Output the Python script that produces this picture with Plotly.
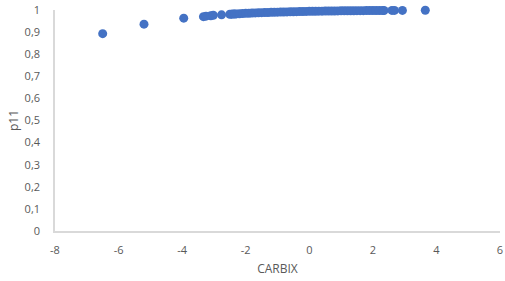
import plotly.graph_objects as go

carbix = [-6.5, -5.2, -3.95, -3.33, -3.25, -3.1, -3.02, -2.76,
          -2.5, -2.45, -2.4, -2.35, -2.3, -2.2, -2.1, -2.0, -1.9, -1.8, -1.7, -1.6,
          -1.5, -1.4, -1.3, -1.2, -1.1, -1.0, -0.9, -0.8, -0.7, -0.6, -0.5, -0.4,
          -0.3, -0.2, -0.1, 0.0, 0.1, 0.2, 0.3, 0.4, 0.5, 0.6, 0.7, 0.8, 0.9,
          1.0, 1.1, 1.2, 1.3, 1.4, 1.5, 1.6, 1.7, 1.8, 1.9, 2.0, 2.1, 2.2, 2.3,
          2.35, 2.6, 2.68, 2.93, 3.65]
p11 = [0.893, 0.936, 0.963, 0.970, 0.972, 0.974, 0.976, 0.978,
       0.981, 0.9813, 0.9816, 0.982, 0.9824, 0.9831, 0.9838, 0.9848, 0.9855, 0.9861, 0.9867, 0.9873,
       0.9879, 0.9884, 0.9889, 0.9893, 0.9898, 0.9902, 0.9906, 0.991, 0.9914, 0.9918, 0.9922, 0.9925,
       0.9929, 0.9932, 0.9935, 0.9938, 0.9941, 0.9943, 0.9946, 0.9948, 0.9951, 0.9953, 0.9955, 0.9957, 0.9959,
       0.9961, 0.9963, 0.9964, 0.9966, 0.9967, 0.9969, 0.997, 0.9971, 0.9973, 0.9974, 0.9975, 0.9976, 0.9977, 0.9978,
       0.9979, 0.998, 0.9981, 0.9983, 0.9988]

x_ticks = [-8, -6, -4, -2, 0, 2, 4, 6]
x_labels = ["-8", "-6", "-4", "-2", "0", "2", "4", "6"]
y_ticks = [0, 0.1, 0.2, 0.3, 0.4, 0.5, 0.6, 0.7, 0.8, 0.9, 1]
y_labels = ["0", "0,1", "0,2", "0,3", "0,4", "0,5", "0,6", "0,7", "0,8", "0,9", "1"]

fig = go.Figure(go.Scatter(
    x=carbix, y=p11, mode="markers",
    marker=dict(color="#4472C4", size=9),
    cliponaxis=False, showlegend=False,
))

font = dict(family="Open Sans, Liberation Sans, sans-serif", size=11, color="#595959")
fig.update_layout(
    width=505, height=281,
    margin=dict(l=55, r=5, t=10, b=50),
    paper_bgcolor="white", plot_bgcolor="white",
    font=font,
    xaxis=dict(range=[-8, 6], tickvals=x_ticks, ticktext=x_labels, showgrid=False, zeroline=False,
               showline=True, linecolor="#D9D9D9", linewidth=1.5, ticks="",
               automargin=False, ticklabelstandoff=8,
               title=dict(text="CARBIX", standoff=9, font=dict(size=12, color="#595959")),
               tickfont=dict(size=11, color="#595959")),
    yaxis=dict(range=[0, 1], tickvals=y_ticks, ticktext=y_labels, showgrid=False, zeroline=False,
               showline=True, linecolor="#D9D9D9", linewidth=1.5, ticks="",
               automargin=False, ticklabelstandoff=11,
               title=dict(text="p11", standoff=3, font=dict(size=12, color="#595959")),
               tickfont=dict(size=11, color="#595959")),
)
fig.write_html("out.html", config={"displayModeBar": False},
               post_script="document.body.style.margin='0';")
